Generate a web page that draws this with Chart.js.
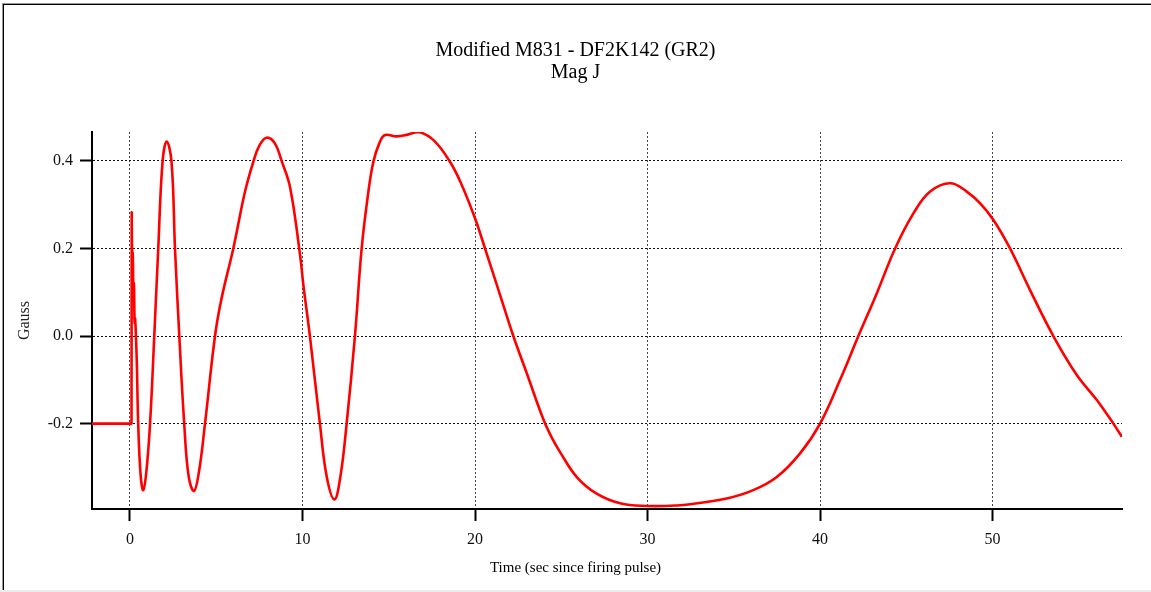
<!DOCTYPE html>
<html>
<head>
<meta charset="utf-8">
<script src="https://cdn.jsdelivr.net/npm/chart.js@4.4.1/dist/chart.umd.min.js"></script>
<style>
  html, body { margin: 0; padding: 0; background: #fff; }
  #wrap { position: relative; width: 1151px; height: 592px; overflow: hidden; }
  .f { position: absolute; }
</style>
</head>
<body>
<div id="wrap">
  <div class="f" style="left:2px;top:3px;right:0;height:1px;background:#9a9a9a"></div>
  <div class="f" style="left:3px;top:4px;right:0;height:1px;background:#000"></div>
  <div class="f" style="left:2px;top:3px;width:1px;bottom:2px;background:#9a9a9a"></div>
  <div class="f" style="left:3px;top:4px;width:1px;bottom:2px;background:#000"></div>
  <div class="f" style="left:0;right:0;top:590px;height:2px;background:#ececec"></div>
  <canvas id="c" width="1151" height="592" style="position:absolute;left:0;top:0"></canvas>
</div>
<script>
// ---- data ----
const timeSec = [
  -2.2, -1.0, 0.05, 0.09, 0.10, 0.13, 0.16, 0.20, 0.23, 0.27, 0.30, 0.39, 0.48, 0.62, 0.77,
  0.95, 1.16, 1.41, 1.64, 1.89, 2.13, 2.41, 2.61, 2.86, 3.15, 3.40, 3.71,
  4.00, 4.35, 4.93, 5.31, 5.99, 6.67, 7.15, 7.50, 7.92, 8.40, 8.79, 9.28, 9.86, 10.05,
  10.43, 11.01, 11.40, 11.85, 12.20, 12.56, 13.04, 13.43, 13.82, 14.11, 14.45,
  14.78, 15.46, 16.10, 16.72, 17.58, 18.55, 19.23, 20.00, 20.58, 21.45, 22.22, 23.00,
  23.96, 24.45, 24.93, 25.90, 27.05, 28.41, 29.95, 31.70, 32.66, 34.59, 36.13, 37.49, 38.84,
  40.00, 41.16, 42.22, 43.29, 44.35, 45.41, 46.38, 47.54, 48.50, 49.28, 50.05, 51.01,
  52.17, 53.52, 54.88, 56.04, 57.00, 57.49
];
const magJ = [
  -0.200, -0.200, -0.200, -0.200, 0.278, 0.170, 0.190, 0.100, 0.120, 0.030, 0.040, -0.050, -0.203, -0.318, -0.352,
  -0.310, -0.203, 0.000, 0.200, 0.398, 0.444, 0.398, 0.200, 0.000, -0.203, -0.320, -0.354,
  -0.310, -0.200, 0.000, 0.086, 0.200, 0.330, 0.398, 0.435, 0.453, 0.440, 0.400, 0.340, 0.185, 0.117,
  0.000, -0.200, -0.320, -0.373, -0.320, -0.200, 0.000, 0.200, 0.330, 0.398, 0.440,
  0.459, 0.456, 0.460, 0.466, 0.448, 0.398, 0.345, 0.269, 0.200, 0.094, 0.000, -0.085,
  -0.190, -0.232, -0.265, -0.322, -0.360, -0.382, -0.388, -0.387, -0.383, -0.371, -0.352, -0.322, -0.268,
  -0.200, -0.100, 0.000, 0.098, 0.200, 0.280, 0.330, 0.349, 0.330, 0.303, 0.265, 0.200,
  0.105, 0.000, -0.089, -0.146, -0.200, -0.230
];
const xTickValues = [0, 10, 20, 30, 40, 50];
const yTickValues = [-0.2, 0.0, 0.2, 0.4];
const titleLines = ['Modified M831 - DF2K142 (GR2)', 'Mag J'];
const xAxisTitle = 'Time (sec since firing pulse)';
const yAxisTitle = 'Gauss';

const points = timeSec.map((t, i) => ({ x: t, y: magJ[i] }));
const serif = 'Liberation Serif, Times New Roman, serif';

new Chart(document.getElementById('c'), {
  type: 'line',
  data: {
    datasets: [{
      data: points,
      borderColor: '#ff0000',
      borderWidth: 2.6,
      pointRadius: 0,
      fill: false,
      tension: 0.4
    }]
  },
  options: {
    responsive: false,
    animation: false,
    layout: { padding: 0 },
    plugins: {
      legend: { display: false },
      tooltip: { enabled: false },
      title: {
        display: true,
        text: titleLines,
        color: '#000',
        font: { family: serif, size: 20, weight: 'normal', lineHeight: '22px' },
        padding: { top: 40, bottom: 48 }
      },
      subtitle: {
        display: true,
        position: 'bottom',
        text: xAxisTitle,
        color: '#000',
        font: { family: serif, size: 15, weight: 'normal', lineHeight: '18px' },
        padding: { top: 0, bottom: 15 }
      }
    },
    scales: {
      x: {
        type: 'linear',
        position: 'bottom',
        min: -2.2,
        max: 57.5,
        afterBuildTicks: s => { s.ticks = xTickValues.map(v => ({ value: v })); },
        afterFit: s => { s.height = 50; },
        ticks: {
          color: '#111',
          font: { family: serif, size: 16 },
          padding: 9,
          maxRotation: 0,
          callback: v => String(v)
        },
        grid: {
          color: '#444',
          lineWidth: 1,
          drawTicks: true,
          tickLength: 12,
          tickWidth: 2,
          tickColor: '#000',
          tickBorderDash: []
        },
        border: { display: true, color: '#000', width: 2, dash: [2, 2] }
      },
      y: {
        type: 'linear',
        position: 'left',
        min: -0.395,
        max: 0.466,
        afterBuildTicks: s => { s.ticks = yTickValues.map(v => ({ value: v })); },
        afterFit: s => { s.width = 92; },
        ticks: {
          color: '#111',
          font: { family: serif, size: 16 },
          padding: 7,
          callback: v => Number(v).toFixed(1)
        },
        grid: {
          color: '#111',
          lineWidth: 1,
          drawTicks: true,
          tickLength: 12,
          tickWidth: 2,
          tickColor: '#000',
          tickBorderDash: []
        },
        border: { display: true, color: '#000', width: 2, dash: [2, 2] },
        title: {
          display: true,
          text: yAxisTitle,
          color: '#222',
          font: { family: serif, size: 16, lineHeight: '18px' },
          padding: { top: 16, bottom: 0 }
        }
      },
      yRight: {
        type: 'linear',
        position: 'right',
        display: true,
        afterFit: s => { s.width = 29; },
        ticks: { display: false },
        grid: { display: false, drawOnChartArea: false },
        border: { display: false }
      }
    }
  }
});
</script>
</body>
</html>
